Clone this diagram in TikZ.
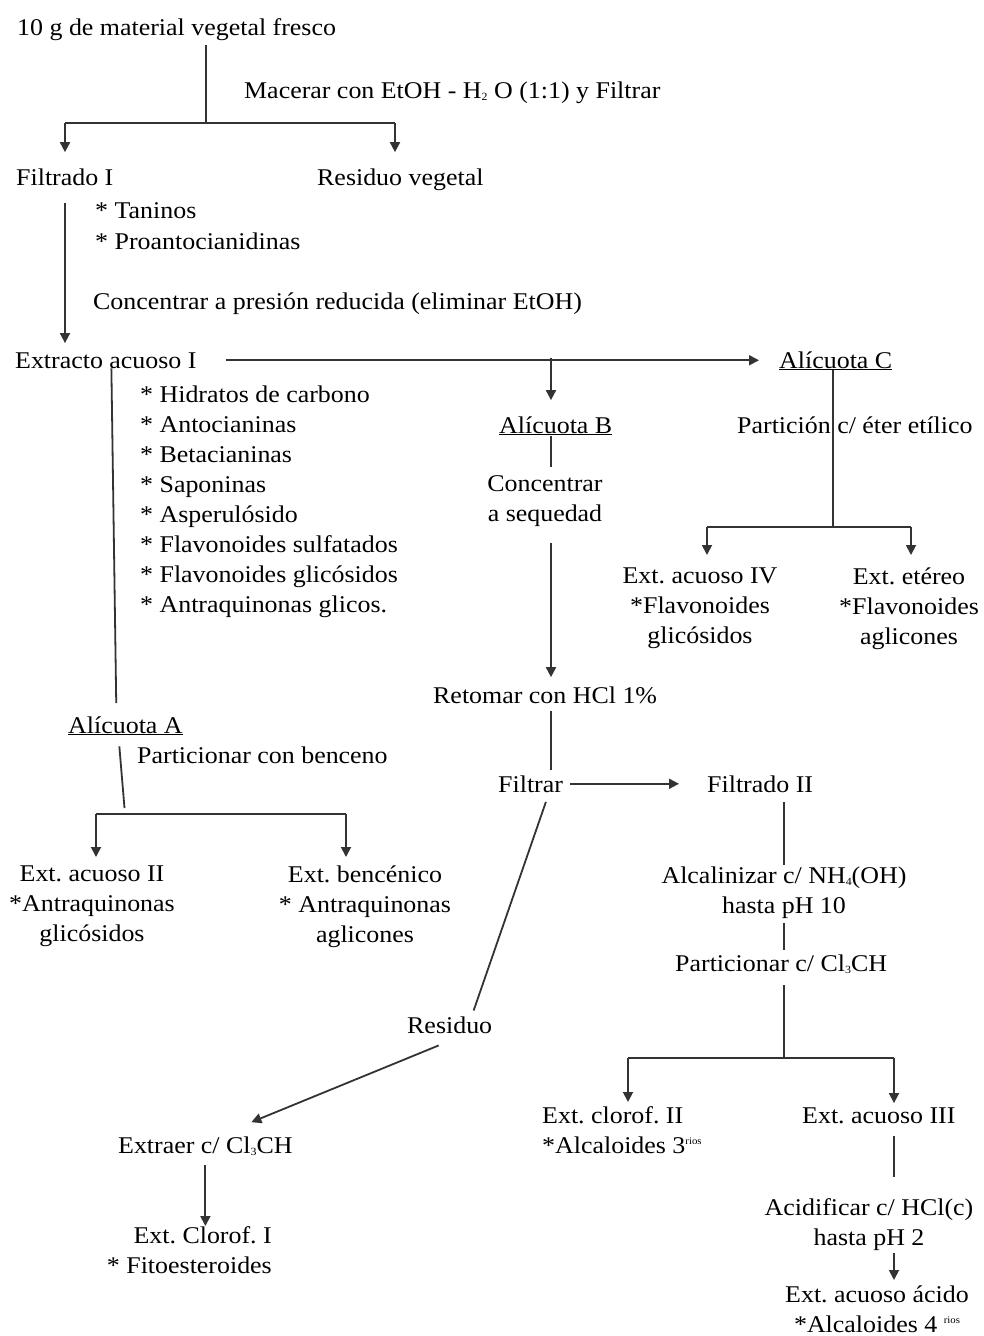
\documentclass[tikz,border=0pt]{standalone}
\usepackage{fontspec}
\setmainfont{Liberation Serif}[FakeStretch=1.08]
\usepackage{tikz}
\usetikzlibrary{arrows.meta,calc}
\newcommand{\linecolor}{black!80}
\newcommand{\strokewidth}{1.8pt}
\newcommand{\tipsize}{10pt}
\newcommand{\lowsub}[1]{\raisebox{-2pt}{\fontsize{11}{11}\selectfont #1}}
\newcommand{\highsup}[1]{\raisebox{9pt}{\fontsize{10}{10}\selectfont #1}}
\frenchspacing
\tikzset{
  txt/.style={inner sep=0pt, anchor=base west, font={\fontsize{24}{30}\selectfont\frenchspacing}},
  blk/.style={inner sep=0pt, anchor=north, align=center, font={\fontsize{24}{30}\selectfont\frenchspacing}},
  ln/.style={draw=\linecolor, line width=\strokewidth},
  arr/.style={ln, -{Triangle[length=\tipsize,width=\tipsize]}},
}

\begin{document}
\begin{tikzpicture}[x=1pt,y=-1pt]
\useasboundingbox (0,0) rectangle (984,1336);
\fill[white] (0,0) rectangle (984,1336);
%texts
\node[txt] (mat) at (17,35) {10 g de material vegetal fresco};
\node[txt] (mac) at (244,98) {Macerar con EtOH - H\lowsub{2} O (1:1) y Filtrar};
\node[txt] (fil1) at (16,185) {Filtrado I};
\node[txt] (resv) at (317,185) {Residuo vegetal};
\node[txt] (tan) at (95,218) {* Taninos};
\node[txt] (proa) at (95,249) {* Proantocianidinas};
\node[txt] (conc) at (93,309) {Concentrar a presión reducida (eliminar EtOH)};
\node[txt] (ext1) at (15,368) {Extracto acuoso I};
\node[txt] (lst) at (140,386) [anchor=north west, align=left] {* Hidratos de carbono\\* Antocianinas\\* Betacianinas\\* Saponinas\\* Asperulósido\\* Flavonoides sulfatados\\* Flavonoides glicósidos\\* Antraquinonas glicos.};
%Alicuota A
\node[txt] (alA) at (68,733) {\underline{Alícuota A}};
\node[txt] (parA) at (137,763) {Particionar con benceno};
\node[blk] (ext2) at (92,866) {Ext. acuoso II\\*Antraquinonas\\glicósidos};
\node[blk] (extb) at (365,866) {Ext. bencénico\\* Antraquinonas\\aglicones};
%Alicuota B
\node[txt] (alB) at (499,433) {\underline{Alícuota B}};
\node[blk] (concB) at (545,475) {Concentrar\\a sequedad};
\node[txt] (ret) at (433,703) {Retomar con HCl 1\%};
\node[txt] (filt) at (498,792) {Filtrar};
\node[txt] (fil2) at (707,792) {Filtrado II};
\node[blk] (alc) at (784,867) {Alcalinizar c/ NH\lowsub{4}(OH)\\hasta pH 10};
\node[txt] (parC) at (675,971) {Particionar c/ Cl\lowsub{3}CH};
\node[txt] (clo2) at (542,1106) [anchor=north west, align=left] {Ext. clorof. II\\*Alcaloides 3\highsup{rios}};
\node[txt] (acu3) at (802,1123) {Ext. acuoso III};
\node[blk] (acid) at (869,1198) {Acidificar c/ HCl(c)\\hasta pH 2};
\node[blk] (acuac) at (877,1286) {Ext. acuoso ácido\\*Alcaloides 4 \highsup{rios}};
\node[txt] (resd) at (407,1033) {Residuo};
\node[txt] (extr) at (118,1153) {Extraer c/ Cl\lowsub{3}CH};
\node[txt] (clo1) at (272,1226) [anchor=north east, align=right] {Ext. Clorof. I\\* Fitoesteroides};
%Alicuota C
\node[txt] (alC) at (779,368) {\underline{Alícuota C}};
\node[txt] (parE) at (737,433) {Partición c/ éter etílico};
\node[blk] (eIV) at (700,568) {Ext. acuoso IV\\*Flavonoides\\glicósidos};
\node[blk] (eEt) at (909,568) {Ext. etéreo\\*Flavonoides\\aglicones};
%junctions
\coordinate (j1) at (206,123);
\coordinate (j1a) at (65,123);
\coordinate (j1b) at (395,123);
\coordinate (j2) at (551,358);
\coordinate (j4) at (784,1058);
\coordinate (j4a) at (628,1058);
\coordinate (j4b) at (894,1058);
\coordinate (j5) at (125,814);
\coordinate (j5a) at (96,814);
\coordinate (j5b) at (346,814);
\coordinate (j6) at (833,527);
\coordinate (j6a) at (707,527);
\coordinate (j6b) at (911,527);
%top
\draw[ln, shorten <=5pt] (mat.south -| j1) -- (j1);
\draw[ln] (j1a) -- (j1b);
\draw[arr, shorten >=16pt] (j1a) -- (j1a |- fil1.north);
\draw[arr, shorten >=16pt] (j1b) -- (j1b |- resv.north);
\draw[arr, shorten <=18pt, shorten >=9pt] (fil1.south -| j1a) -- (j1a |- ext1.north);
\draw[arr, shorten <=29pt, shorten >=20pt] (ext1.east) -- (ext1.east -| alC.west);
%B
\draw[arr, shorten >=16pt] (j2) -- (j2 |- alB.north);
\draw[ln, shorten <=1pt, shorten >=8pt] (alB.south -| j2) -- (j2 |- concB.north);
\draw[arr, shorten <=17pt, shorten >=9pt] (concB.south -| j2) -- (j2 |- ret.north);
\draw[ln, shorten <=7pt, shorten >=5pt] (ret.south -| j2) -- (j2 |- filt.north);
\draw[arr, shorten <=7pt, shorten >=28pt] (filt.east) -- (filt.east -| fil2.west);
\draw[ln, shorten <=10pt, shorten >=6pt] ([xshift=-14pt]filt.south east) -- ([xshift=22pt]resd.north);
\draw[arr] ([xshift=-11pt,yshift=-12pt]resd.south) -- ([xshift=46pt,yshift=14pt]extr.north);
\draw[arr, shorten <=10pt] (extr.south) -- (extr.south |- clo1.north);
\draw[ln, shorten <=10pt, shorten >=2pt] (fil2.south -| alc.north) -- (alc.north);
\draw[ln, shorten <=4pt, shorten >=4pt] (alc.south) -- (alc.south |- parC.north);
\draw[ln, shorten <=12pt] (parC.south -| j4) -- (j4);
\draw[ln] (j4a) -- (j4b);
\draw[arr, shorten >=4pt] (j4a) -- (j4a |- clo2.north);
\draw[arr, shorten >=4pt] (j4b) -- (j4b |- acu3.north);
\draw[ln, shorten <=12pt, shorten >=21pt] (acu3.south -| j4b) -- (j4b |- acid.north);
\draw[arr, shorten <=3pt, shorten >=6pt] (acid.south -| j4b) -- (j4b |- acuac.north);
%A
\draw[ln, shorten >=13pt] ([xshift=5.5pt]ext1.south) -- ([xshift=-9pt]alA.north);
\draw[ln, shorten <=11pt, shorten >=6pt] ([xshift=-7pt]alA.south) -- (j5);
\draw[ln] (j5a) -- (j5b);
\draw[arr, shorten >=9pt] (j5a) -- (j5a |- ext2.north);
\draw[arr, shorten >=9pt] (j5b) -- (j5b |- extb.north);
%C
\draw[ln] (alC.south -| j6) -- (j6);
\draw[ln] (j6a) -- (j6b);
\draw[arr, shorten >=13pt] (j6a) -- (j6a |- eIV.north);
\draw[arr, shorten >=13pt] (j6b) -- (j6b |- eEt.north);
\end{tikzpicture}
\end{document}
